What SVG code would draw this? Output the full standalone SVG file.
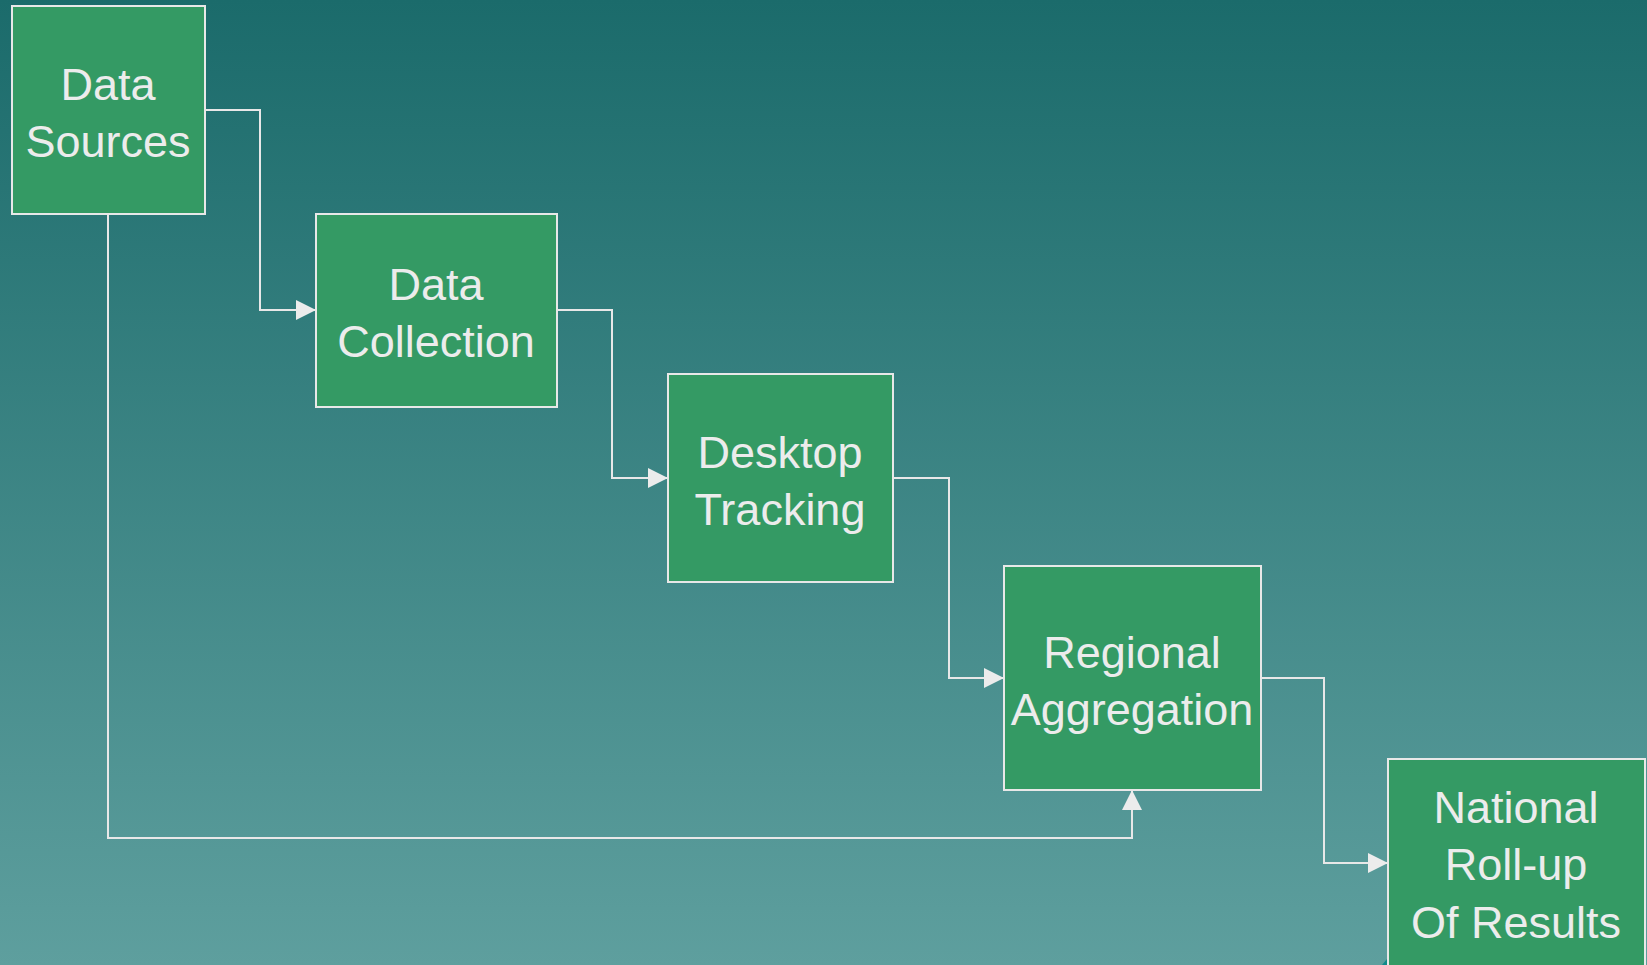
<svg xmlns="http://www.w3.org/2000/svg" width="1647" height="965" viewBox="0 0 1647 965">
<defs>
<linearGradient id="bg" x1="0" y1="0" x2="0" y2="1">
<stop offset="0" stop-color="#1b6b6b"/>
<stop offset="1" stop-color="#5e9f9e"/>
</linearGradient>
<marker id="arr" viewBox="0 0 20 20" refX="20" refY="10" markerWidth="20" markerHeight="20" markerUnits="userSpaceOnUse" orient="auto">
<path d="M0,0 L20,10 L0,20 Z" fill="#ececec"/>
</marker>
<style>
.box{fill:#349a64;stroke:#e8e8e8;stroke-width:2}
.lbl{font-family:"Liberation Sans",Arial,sans-serif;font-size:45px;fill:#ececec;text-anchor:middle}
.con{fill:none;stroke:#e8e8e8;stroke-width:2}
</style>
</defs>
<rect x="0" y="0" width="1647" height="965" fill="url(#bg)"/>
<g id="connectors">
<polyline class="con" points="205,110 260,110 260,310 316,310" marker-end="url(#arr)"/>
<polyline class="con" points="557,310 612,310 612,478 668,478" marker-end="url(#arr)"/>
<polyline class="con" points="893,478 949,478 949,678 1004,678" marker-end="url(#arr)"/>
<polyline class="con" points="1261,678 1324,678 1324,863 1388,863" marker-end="url(#arr)"/>
<polyline class="con" points="108,214 108,838 1132,838 1132,790" marker-end="url(#arr)"/>
</g>
<g id="data-sources">
<rect class="box" x="12" y="6" width="193" height="208"/>
<text class="lbl" x="108" y="100">Data</text>
<text class="lbl" x="108" y="157">Sources</text>
</g>
<g id="data-collection">
<rect class="box" x="316" y="214" width="241" height="193"/>
<text class="lbl" x="436" y="300">Data</text>
<text class="lbl" x="436" y="357">Collection</text>
</g>
<g id="desktop-tracking">
<rect class="box" x="668" y="374" width="225" height="208"/>
<text class="lbl" x="780" y="468">Desktop</text>
<text class="lbl" x="780" y="525">Tracking</text>
</g>
<g id="regional-aggregation">
<rect class="box" x="1004" y="566" width="257" height="224"/>
<text class="lbl" x="1132" y="668">Regional</text>
<text class="lbl" x="1132" y="725">Aggregation</text>
</g>
<g id="national-rollup">
<rect class="box" x="1388" y="759" width="257" height="220"/>
<text class="lbl" x="1516" y="823">National</text>
<text class="lbl" x="1516" y="880">Roll-up</text>
<text class="lbl" x="1516" y="938">Of Results</text>
</g>
<polygon points="1382,965 1387,959 1387,965" fill="#0f8a8a"/>
</svg>
